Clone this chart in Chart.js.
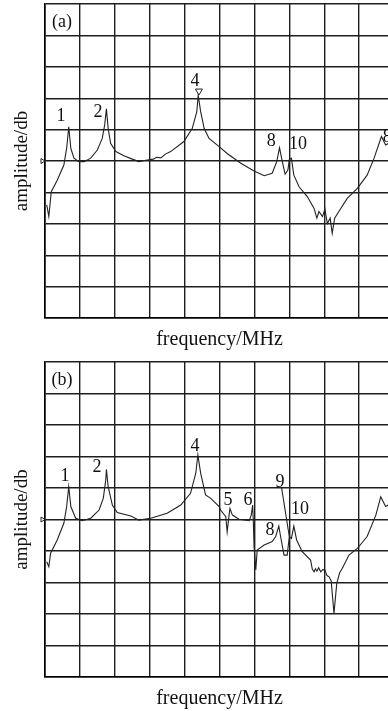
<!DOCTYPE html>
<html>
<head>
<meta charset="utf-8">
<script src="https://cdn.jsdelivr.net/npm/chart.js@4.4.0/dist/chart.umd.min.js"></script>
<style>
html, body { margin:0; padding:0; background:#fff; overflow:hidden; width:388px; height:711px; }
#wrap { position:relative; width:400px; height:711px; }
canvas { position:absolute; left:0; }
</style>
</head>
<body>
<div id="wrap">
  <canvas id="chartA" width="400" height="355" style="top:0"></canvas>
  <canvas id="chartB" width="400" height="356" style="top:355px"></canvas>
</div>
<script>
// traces, in grid divisions (x: 0..10, y: 0..10 from bottom)
const freqA = [0.05,0.11,0.18,0.35,0.54,0.62,0.68,0.74,0.83,0.97,1.12,1.31,1.50,1.64,1.71,1.76,1.81,1.88,2.03,2.26,2.50,2.69,2.93,3.10,3.20,3.32,3.45,3.60,3.98,4.22,4.35,4.39,4.46,4.56,4.70,4.99,5.22,5.61,5.99,6.28,6.51,6.64,6.72,6.80,6.88,6.96,7.00,7.06,7.13,7.28,7.52,7.71,7.79,7.85,7.95,8.02,8.09,8.17,8.23,8.30,8.42,8.66,8.95,9.23,9.43,9.64,9.76,9.90];
const ampA  = [3.60,3.23,4.02,4.39,4.87,5.40,6.09,5.40,5.09,4.98,4.98,5.09,5.35,5.72,6.15,6.66,6.04,5.56,5.30,5.17,5.06,4.98,5.03,5.06,5.12,5.10,5.22,5.30,5.62,6.04,6.57,7.10,6.57,6.04,5.72,5.46,5.24,4.93,4.68,4.53,4.61,4.98,5.42,4.98,4.58,4.71,5.05,5.09,4.55,4.18,3.86,3.49,3.18,3.39,3.23,3.47,3.01,3.18,2.70,3.18,3.39,3.81,4.13,4.55,5.09,5.78,5.51,5.60];

const freqB = [0.05,0.11,0.16,0.35,0.54,0.62,0.68,0.74,0.88,1.07,1.31,1.55,1.67,1.74,1.76,1.81,1.93,2.07,2.46,2.69,3.03,3.50,3.89,4.17,4.32,4.38,4.46,4.60,4.75,4.99,5.03,5.18,5.22,5.27,5.30,5.37,5.56,5.85,5.91,5.95,5.97,5.99,6.04,6.08,6.28,6.51,6.61,6.70,6.75,6.85,6.94,7.00,7.06,7.13,7.21,7.37,7.61,7.66,7.71,7.75,7.79,7.84,7.90,7.96,8.02,8.08,8.14,8.20,8.28,8.36,8.44,8.52,8.71,8.95,9.23,9.48,9.62,9.76,9.90];
const ampB  = [3.66,3.50,3.93,4.35,4.88,5.41,6.04,5.41,5.04,4.96,5.04,5.30,5.67,6.25,6.59,6.04,5.46,5.22,5.11,4.98,5.04,5.20,5.46,5.83,6.47,7.05,6.47,5.78,5.67,5.41,5.30,5.09,4.61,5.10,5.35,5.14,5.01,4.96,5.14,5.46,4.90,4.14,3.40,4.03,4.19,4.30,4.46,4.79,4.46,3.87,3.87,4.46,4.40,4.79,4.35,3.98,3.71,3.42,3.34,3.44,3.36,3.47,3.34,3.41,3.40,3.22,3.18,3.05,2.02,2.97,3.30,3.45,3.87,4.08,4.46,5.14,5.72,5.41,5.50];

// leader line from the "9" label in (b)
const leaderXB = [6.78, 7.00];
const leaderYB = [6.00, 4.46];

// peak numbers
const tagsA  = ['(a)','1','2','4','8','10','8'];
const tagXA  = [0.49,0.46,1.52,4.30,6.48,7.25,9.81];
const tagYA  = [9.43,6.43,6.56,7.55,5.64,5.54,5.76];
const tagsB  = ['(b)','1','2','4','5','6','9','10','8'];
const tagXB  = [0.49,0.57,1.49,4.30,5.24,5.82,6.73,7.31,6.45];
const tagYB  = [9.43,6.38,6.67,7.33,5.62,5.62,6.19,5.33,4.67];

// marker over peak 4 in (a) and the reference level on the left edge
const markerA = [4.41, 7.10];
const refLevel = 5;

const serif = "'Liberation Serif', 'DejaVu Serif', serif";

function pts(xs, ys) {
  return xs.map((x, i) => ({x: x, y: ys[i]}));
}

const tagPlugin = {
  id: 'tags',
  afterDatasetsDraw(chart, args, opts) {
    const ctx = chart.ctx;
    const xs = chart.scales.x, ys = chart.scales.y;
    ctx.save();
    ctx.fillStyle = '#111';
    ctx.font = '18px ' + serif;
    ctx.textAlign = 'center';
    ctx.textBaseline = 'middle';
    opts.text.forEach((t, i) => {
      ctx.fillText(t, xs.getPixelForValue(opts.x[i]), ys.getPixelForValue(opts.y[i]));
    });
    // little reference arrow at the left edge
    const ry = ys.getPixelForValue(refLevel);
    const lx = chart.chartArea.left;
    ctx.strokeStyle = '#222';
    ctx.lineWidth = 1;
    ctx.beginPath();
    ctx.moveTo(lx - 4, ry - 2.5);
    ctx.lineTo(lx, ry);
    ctx.lineTo(lx - 4, ry + 2.5);
    ctx.closePath();
    ctx.stroke();
    if (opts.marker) {
      const mx = xs.getPixelForValue(opts.marker[0]);
      const my = ys.getPixelForValue(opts.marker[1]);
      ctx.beginPath();
      ctx.moveTo(mx, my);
      ctx.lineTo(mx - 3.5, my - 6);
      ctx.lineTo(mx + 3.5, my - 6);
      ctx.closePath();
      ctx.fillStyle = '#fff';
      ctx.fill();
      ctx.stroke();
    }
    ctx.restore();
  }
};

function axes(titlePadTop) {
  return {
    x: {
      type: 'linear', min: 0, max: 10,
      ticks: { display: false, stepSize: 1 },
      grid: { color: '#1e1e1e', lineWidth: 1.4, drawTicks: false },
      border: { color: '#000', width: 1.6 },
      title: { display: true, text: 'frequency/MHz', color: '#111',
               font: { family: serif, size: 20 }, padding: { top: titlePadTop, bottom: 0 } }
    },
    y: {
      type: 'linear', min: 0, max: 10,
      ticks: { display: false, stepSize: 1 },
      grid: { color: '#1e1e1e', lineWidth: 1.4, drawTicks: false },
      border: { color: '#000', width: 1.6 },
      title: { display: true, text: 'amplitude/db', color: '#111',
               font: { family: serif, size: 19 }, padding: { top: 0, bottom: 12 } }
    }
  };
}

const lineStyle = { borderColor: '#222', borderWidth: 1.1, pointRadius: 0, tension: 0, fill: false };

new Chart(document.getElementById('chartA'), {
  type: 'line',
  data: { datasets: [ Object.assign({ data: pts(freqA, ampA) }, lineStyle) ] },
  options: {
    responsive: false, animation: false, devicePixelRatio: 1,
    layout: { padding: { left: 10.2, top: 4, right: 6, bottom: 3 } },
    plugins: { legend: { display: false }, tooltip: { enabled: false },
               tags: { text: tagsA, x: tagXA, y: tagYA, marker: markerA } },
    scales: axes(10)
  },
  plugins: [tagPlugin]
});

new Chart(document.getElementById('chartB'), {
  type: 'line',
  data: { datasets: [
    Object.assign({ data: pts(freqB, ampB) }, lineStyle),
    Object.assign({ data: pts(leaderXB, leaderYB) }, lineStyle)
  ] },
  options: {
    responsive: false, animation: false, devicePixelRatio: 1,
    layout: { padding: { left: 10.2, top: 7, right: 6, bottom: 0 } },
    plugins: { legend: { display: false }, tooltip: { enabled: false },
               tags: { text: tagsB, x: tagXB, y: tagYB, marker: null } },
    scales: axes(10)
  },
  plugins: [tagPlugin]
});
</script>
</body>
</html>
